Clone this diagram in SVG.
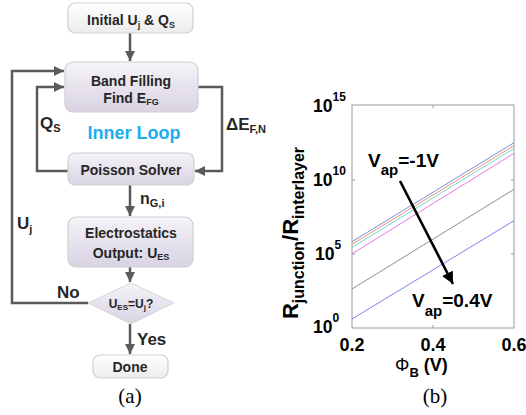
<svg xmlns="http://www.w3.org/2000/svg" width="526" height="415" viewBox="0 0 526 415">
<defs>
<linearGradient id="lav" x1="0" y1="0" x2="0" y2="1">
<stop offset="0" stop-color="#f5f3f8"/>
<stop offset="1" stop-color="#d9d3e3"/>
</linearGradient>
<linearGradient id="wht" x1="0" y1="0" x2="0" y2="1">
<stop offset="0" stop-color="#ffffff"/>
<stop offset="1" stop-color="#ececec"/>
</linearGradient>
<marker id="ah" markerUnits="userSpaceOnUse" markerWidth="12" markerHeight="12" refX="10" refY="5" orient="auto">
<path d="M0,0 L10,5 L0,10 Z" fill="#5a5a5a"/>
</marker>
<marker id="bh" markerUnits="userSpaceOnUse" markerWidth="14" markerHeight="14" refX="12" refY="6" orient="auto">
<path d="M0,0 L12,6 L0,12 Z" fill="#000"/>
</marker>
<style>
.box{stroke:#cfcfcf;stroke-width:1.2}
.t{font-family:"Liberation Sans",Arial,sans-serif;font-weight:bold;fill:#262626}
.c{fill:none;stroke:#5a5a5a;stroke-width:2.5}
.p{font-family:"Liberation Sans",Arial,sans-serif;font-weight:bold;fill:#000}
.cap{font-family:"Liberation Serif","Times New Roman",serif;font-size:21px;fill:#000}
</style>
</defs>
<rect width="526" height="415" fill="#fff"/>

<!-- connectors -->
<g id="connectors">
<path class="c" d="M130,33 V61" marker-end="url(#ah)"/>
<path class="c" d="M88,303 H12 V71 H64" marker-end="url(#ah)"/>
<path class="c" d="M68,171 H37 V87 H64" marker-end="url(#ah)"/>
<path class="c" d="M198,87 H222 V171 H195" marker-end="url(#ah)"/>
<path class="c" d="M130,185 V216" marker-end="url(#ah)"/>
<path class="c" d="M130,267 V282" marker-end="url(#ah)"/>
<path class="c" d="M130,324 V354" marker-end="url(#ah)"/>
<text class="t" x="40" y="129" font-size="17">Q<tspan font-size="11" dy="3">S</tspan></text>
<text class="t" x="226" y="130" font-size="17">ΔE<tspan font-size="11" dy="3">F,N</tspan></text>
<text class="t" x="140" y="204" font-size="16">n<tspan font-size="11" dy="3">G,i</tspan></text>
<text class="t" x="17" y="229" font-size="17">U<tspan font-size="11" dy="4">j</tspan></text>
<text class="t" x="57" y="298" font-size="17">No</text>
<text class="t" x="137" y="345" font-size="17">Yes</text>
</g>

<g id="n_initial">
<rect class="box" x="68" y="3" width="125" height="30" rx="7" fill="url(#wht)"/>
<text class="t" x="131" y="25" font-size="14" text-anchor="middle">Initial U<tspan font-size="9" dy="3">j</tspan><tspan dy="-3"> &amp; Q</tspan><tspan font-size="9" dy="3">S</tspan></text>
</g>

<g id="n_band">
<rect class="box" x="65" y="62" width="133" height="50" rx="8" fill="url(#lav)"/>
<text class="t" x="131" y="86" font-size="14" text-anchor="middle">Band Filling</text>
<text class="t" x="131" y="103" font-size="14" text-anchor="middle">Find E<tspan font-size="9" dy="2">FG</tspan></text>
</g>

<g id="n_inner">
<text x="134" y="139" font-family="Liberation Sans,Arial,sans-serif" font-weight="bold" font-size="18" fill="#1aaef0" text-anchor="middle">Inner Loop</text>
</g>

<g id="n_poisson">
<rect class="box" x="68" y="153" width="126" height="32" rx="7" fill="url(#lav)"/>
<text class="t" x="131" y="175" font-size="14" text-anchor="middle">Poisson Solver</text>
</g>

<g id="n_electro">
<rect class="box" x="68" y="217" width="125" height="50" rx="8" fill="url(#lav)"/>
<text class="t" x="131" y="238" font-size="14" text-anchor="middle">Electrostatics</text>
<text class="t" x="131" y="258" font-size="14" text-anchor="middle">Output: U<tspan font-size="9" dy="2">ES</tspan></text>
</g>

<g id="n_decision">
<path d="M88,303 L131,283 L174,303 L131,324 Z" fill="url(#lav)" stroke="#d8d8d8" stroke-width="1"/>
<text class="t" x="131" y="308" font-size="12" text-anchor="middle">U<tspan font-size="8" dy="2">ES</tspan><tspan dy="-2">=U</tspan><tspan font-size="8" dy="2">j</tspan><tspan dy="-2">?</tspan></text>
</g>

<g id="n_done">
<rect class="box" x="93" y="355" width="75" height="23" rx="7" fill="url(#wht)"/>
<text class="t" x="130" y="372" font-size="14" text-anchor="middle">Done</text>
</g>

<text class="cap" x="130" y="403" text-anchor="middle">(a)</text>

<!-- plot (b) -->
<g id="plot">
<rect x="352" y="105" width="162" height="223" fill="#fff" stroke="#9a9a9a" stroke-width="1"/>
<g stroke="#9a9a9a" stroke-width="1">
<path d="M433,105 v3 M433,328 v-3 M352,180 h3 M352,254 h3 M514,180 h-3 M514,254 h-3"/>
</g>
<g fill="none" stroke-width="1">
<path d="M352,241.7 L514,142.7" stroke="#6f93e0"/>
<path d="M352,244.3 L514,145.6" stroke="#ee9472"/>
<path d="M352,247.4 L514,148.4" stroke="#6ad9de"/>
<path d="M352,253.8 L514,153.3" stroke="#e27be2"/>
<path d="M352,289 L514,189.3" stroke="#8e8e8e"/>
<path d="M352,319 L514,220.7" stroke="#8080f0"/>
</g>
<path d="M400,181 L453,284" stroke="#000" stroke-width="2.6" fill="none" marker-end="url(#bh)"/>
<text class="p" x="368" y="167" font-size="19">V<tspan font-size="15" dy="8">ap</tspan><tspan dy="-8">=-1V</tspan></text>
<text class="p" x="412" y="307" font-size="19">V<tspan font-size="15" dy="9">ap</tspan><tspan dy="-9">=0.4V</tspan></text>
<text class="p" x="313" y="112" font-size="17.5">10<tspan font-size="12" dy="-11">15</tspan></text>
<text class="p" x="313" y="186" font-size="17.5">10<tspan font-size="12" dy="-11">10</tspan></text>
<text class="p" x="315" y="260" font-size="17.5">10<tspan font-size="12" dy="-11">5</tspan></text>
<text class="p" x="313" y="333" font-size="17.5">10<tspan font-size="12" dy="-11">0</tspan></text>
<text class="p" x="352" y="351" font-size="18" text-anchor="middle">0.2</text>
<text class="p" x="433" y="351" font-size="18" text-anchor="middle">0.4</text>
<text class="p" x="514" y="351" font-size="18" text-anchor="middle">0.6</text>
<text class="p" x="395" y="371" font-size="18"><tspan font-weight="normal">Φ</tspan><tspan font-size="13" dy="6">B</tspan><tspan dy="-6"> (V)</tspan></text>
<text class="p" transform="translate(298,233) rotate(-90)" x="0" y="0" font-size="22" text-anchor="middle">R<tspan font-size="16" dy="6">junction</tspan><tspan dy="-6">/R</tspan><tspan font-size="16" dy="6">interlayer</tspan></text>
</g>
<text class="cap" x="435" y="403" text-anchor="middle">(b)</text>
</svg>
